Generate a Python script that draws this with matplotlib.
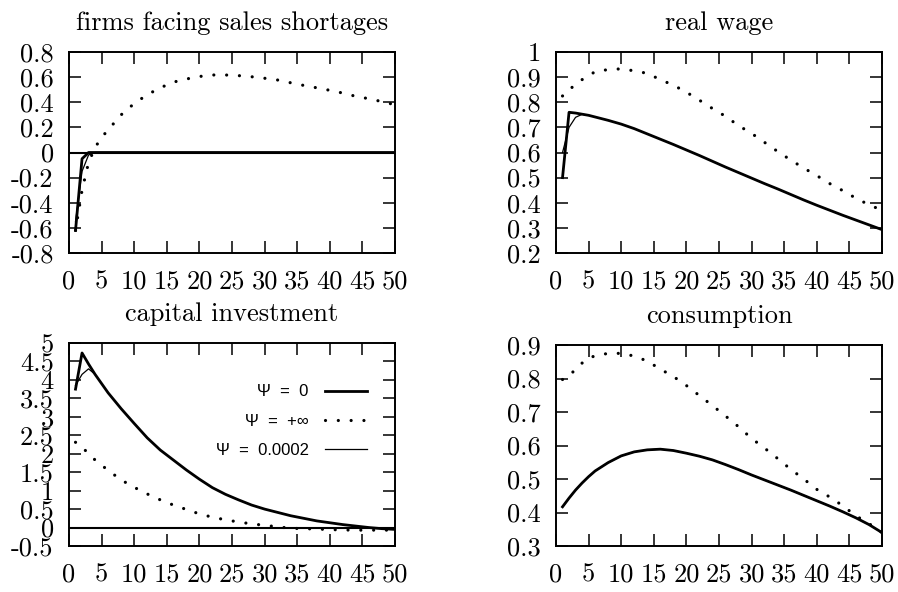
import matplotlib
matplotlib.use("Agg")
import matplotlib.pyplot as plt

plt.rcParams['font.family'] = ['cmr10', 'DejaVu Serif']
plt.rcParams['axes.unicode_minus'] = False

# ---------------- data ----------------
x_full = [1, 2, 3, 4, 5, 6, 8, 10, 12, 14, 16, 18, 20, 22, 24, 26, 28, 30,
          32, 34, 36, 38, 40, 42, 44, 46, 48, 50]

# firms facing sales shortages
short_inf = [-0.62, -0.30, -0.08, 0.04, 0.12, 0.18, 0.30, 0.39, 0.46, 0.515, 0.56,
             0.585, 0.605, 0.617, 0.617, 0.612, 0.603, 0.591, 0.577, 0.555, 0.534,
             0.515, 0.495, 0.473, 0.447, 0.428, 0.405, 0.38]
short_x0 = [1, 2, 3, 50]
short_0 = [-0.62, -0.05, 0.0, 0.0]
short_xs = [1, 2, 3, 4, 50]
short_s = [-0.55, -0.15, -0.02, 0.0, 0.0]

# real wage
wage_inf = [0.825, 0.85, 0.87, 0.89, 0.905, 0.922, 0.93, 0.933, 0.925, 0.915, 0.89,
            0.868, 0.84, 0.808, 0.775, 0.744, 0.707, 0.676, 0.64, 0.604, 0.57,
            0.538, 0.508, 0.476, 0.448, 0.418, 0.392, 0.37]
wage_x0 = [1, 2, 3, 5, 8, 10, 12, 14, 16, 18, 20, 22, 24, 26, 28, 30, 32, 34, 36,
           38, 40, 42, 44, 46, 48, 50]
wage_0 = [0.50, 0.76, 0.757, 0.748, 0.728, 0.713, 0.695, 0.674, 0.653, 0.632, 0.61,
          0.588, 0.565, 0.542, 0.52, 0.498, 0.476, 0.455, 0.433, 0.411, 0.39, 0.37,
          0.35, 0.331, 0.312, 0.293]
wage_xs = [1, 2, 3, 4, 5]
wage_s = [0.60, 0.70, 0.74, 0.752, 0.748]

# capital investment
inv_0 = [3.75, 4.73, 4.43, 4.15, 3.90, 3.65, 3.22, 2.82, 2.43, 2.10, 1.83, 1.56, 1.31,
         1.08, 0.90, 0.75, 0.61, 0.50, 0.41, 0.32, 0.25, 0.18, 0.13, 0.08, 0.04,
         0.0, -0.03, -0.05]
inv_inf = [2.31, 2.17, 2.01, 1.83, 1.69, 1.55, 1.29, 1.09, 0.91, 0.75, 0.61, 0.49,
           0.37, 0.28, 0.21, 0.15, 0.10, 0.06, 0.02, -0.02, -0.03, -0.04, -0.055,
           -0.065, -0.07, -0.07, -0.07, -0.07]
inv_xs = [1, 2, 3, 4]
inv_s = [3.85, 4.15, 4.3, 4.15]

# consumption
cons_inf = [0.797, 0.81, 0.826, 0.846, 0.86, 0.868, 0.875, 0.875, 0.867, 0.852,
            0.828, 0.806, 0.779, 0.749, 0.719, 0.688, 0.656, 0.621, 0.592, 0.561,
            0.529, 0.50, 0.469, 0.446, 0.42, 0.39, 0.367, 0.34]
cons_0 = [0.417, 0.443, 0.467, 0.488, 0.507, 0.524, 0.549, 0.569, 0.581, 0.587, 0.589,
          0.585, 0.577, 0.568, 0.557, 0.543, 0.528, 0.512, 0.497, 0.482, 0.467, 0.451,
          0.435, 0.419, 0.402, 0.384, 0.364, 0.34]

x_ticks = [0, 5, 10, 15, 20, 25, 30, 35, 40, 45, 50]
x_ticklabels = ['0', '5', '10', '15', '20', '25', '30', '35', '40', '45', '50']

short_yticks = [-0.8, -0.6, -0.4, -0.2, 0, 0.2, 0.4, 0.6, 0.8]
short_ylabels = ['-0.8', '-0.6', '-0.4', '-0.2', '0', '0.2', '0.4', '0.6', '0.8']
wage_yticks = [0.2, 0.3, 0.4, 0.5, 0.6, 0.7, 0.8, 0.9, 1.0]
wage_ylabels = ['0.2', '0.3', '0.4', '0.5', '0.6', '0.7', '0.8', '0.9', '1']
inv_yticks = [-0.5, 0, 0.5, 1, 1.5, 2, 2.5, 3, 3.5, 4, 4.5, 5]
inv_ylabels = ['-0.5', '0', '0.5', '1', '1.5', '2', '2.5', '3', '3.5', '4', '4.5', '5']
cons_yticks = [0.3, 0.4, 0.5, 0.6, 0.7, 0.8, 0.9]
cons_ylabels = ['0.3', '0.4', '0.5', '0.6', '0.7', '0.8', '0.9']

titles = ['firms facing sales shortages', 'real wage', 'capital investment', 'consumption']
legend_labels = ['Ψ  =  0', 'Ψ  =  +∞', 'Ψ  =  0.0002']

# ---------------- figure ----------------
W, H = 898, 592
fig = plt.figure(figsize=(W / 100, H / 100), dpi=100)

def px_axes(l, t, r, b):
    return fig.add_axes([l / W, 1 - b / H, (r - l) / W, (b - t) / H])

ax1 = px_axes(69, 52, 395, 253)
ax2 = px_axes(556, 52, 882, 253)
ax3 = px_axes(69, 343, 395, 546)
ax4 = px_axes(556, 345, 882, 546)

FS = 19
thick = dict(color='black', lw=2.0, solid_joinstyle='round')
thin = dict(color='black', lw=0.9)
dotted = dict(color='black', lw=2.3, linestyle=(0, (0.01, 4.0)), dash_capstyle='round')

def style(ax, yt, yl, ylim, title):
    ax.set_xlim(0, 50)
    ax.set_ylim(*ylim)
    ax.set_xticks(x_ticks)
    ax.set_xticklabels(x_ticklabels)
    ax.set_yticks(yt)
    ax.set_yticklabels(yl)
    ax.tick_params(direction='in', length=8.5, width=1.1, top=True, right=True,
                   labelsize=FS)
    ax.tick_params(axis='y', pad=11)
    ax.tick_params(axis='x', pad=12)
    for s in ax.spines.values():
        s.set_linewidth(1.4)
    ax.set_title(title, fontsize=FS, pad=16)

# panel 1
ax1.axhline(0, color='black', lw=1.5)
ax1.plot(x_full, short_inf, **dotted)
ax1.plot(short_x0, short_0, **thick)
ax1.plot(short_xs, short_s, **thin)
style(ax1, short_yticks, short_ylabels, (-0.8, 0.8), titles[0])

# panel 2
ax2.plot(x_full, wage_inf, **dotted)
ax2.plot(wage_x0, wage_0, **thick)
ax2.plot(wage_xs, wage_s, **thin)
style(ax2, wage_yticks, wage_ylabels, (0.2, 1.0), titles[1])

# panel 3
ax3.axhline(0, color='black', lw=1.5)
l0, = ax3.plot(x_full, inv_0, **thick)
linf, = ax3.plot(x_full, inv_inf, **dotted)
ls, = ax3.plot(inv_xs, inv_s, **thin)
style(ax3, inv_yticks, inv_ylabels, (-0.5, 5.0), titles[2])
leg = ax3.legend([l0, linf, ls], legend_labels, loc='upper right',
                 bbox_to_anchor=(0.96, 0.87), frameon=False, markerfirst=False,
                 handlelength=2.5, handletextpad=1.0, labelspacing=0.85,
                 prop={'family': ['Liberation Sans', 'DejaVu Sans'], 'size': 12})

# panel 4
ax4.plot(x_full, cons_inf, **dotted)
ax4.plot(x_full, cons_0, **thick)
ax4.plot(x_full, cons_0, **thin)
style(ax4, cons_yticks, cons_ylabels, (0.3, 0.9), titles[3])

fig.savefig('out.png', dpi=100)
